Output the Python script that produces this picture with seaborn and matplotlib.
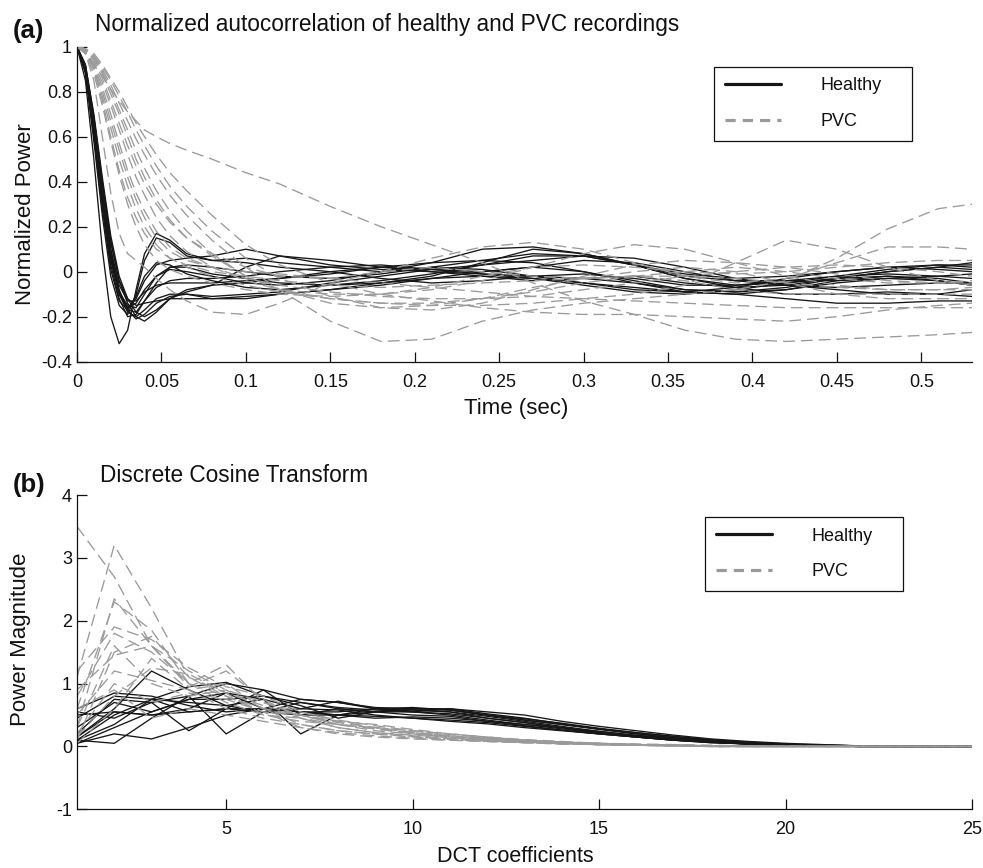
import matplotlib
matplotlib.use("Agg")
import matplotlib.pyplot as plt
import pandas as pd
import seaborn as sns
from matplotlib.lines import Line2D

# ---------------- data: (a) normalized autocorrelation ----------------
lag_time = [0, .005, .01, .015, .02, .025, .03, .035, .04, .047, .055, .065, .08, .10,
            .12, .15, .18, .21, .24, .27, .30, .33, .36, .39, .42, .45, .48, .51, .53]

healthy_acf_01 = [1, .85, .5, .1, -.2, -.32, -.26, -.08, .08, .17, .14, .08, .05, .04, .02, .0, -.03, -.05, -.04, -.02, -.01, -.03, -.06, -.06, -.04, -.02, -.01, -.02, -.03]
healthy_acf_02 = [1, .88, .58, .25, -.02, -.15, -.19, -.1, .05, .15, .13, .07, .05, .06, .04, .02, .0, .02, .05, .08, .07, .03, -.01, -.03, -.02, .0, .02, .03, .02]
healthy_acf_03 = [1, .9, .65, .35, .08, -.1, -.18, -.2, -.17, -.12, -.1, -.1, -.11, -.1, -.09, -.05, -.02, .01, .03, .05, .07, .06, .02, -.03, -.06, -.07, -.06, -.05, -.05]
healthy_acf_04 = [1, .9, .66, .36, .1, -.08, -.17, -.21, -.19, -.14, -.11, -.1, -.12, -.12, -.1, -.08, -.06, -.03, .0, .02, .0, -.04, -.08, -.09, -.08, -.05, -.03, -.04, -.06]
healthy_acf_05 = [1, .91, .68, .4, .14, -.04, -.14, -.2, -.22, -.18, -.12, -.08, -.06, -.05, -.03, .0, .02, .01, -.01, -.03, -.05, -.07, -.09, -.1, -.12, -.14, -.14, -.13, -.13]
healthy_acf_06 = [1, .89, .62, .3, .03, -.12, -.2, -.19, -.13, -.05, .02, .02, -.01, -.03, -.05, -.06, -.05, -.02, .04, .1, .08, .03, -.02, -.04, -.04, -.04, -.03, -.02, -.01]
healthy_acf_07 = [1, .9, .64, .33, .06, -.09, -.15, -.16, -.1, -.02, .01, .0, -.02, -.05, -.06, -.04, .0, .04, .1, .11, .08, .03, -.03, -.07, -.1, -.1, -.09, -.1, -.11]
healthy_acf_08 = [1, .92, .7, .42, .16, -.02, -.12, -.18, -.2, -.17, -.12, -.09, -.06, .02, .07, .05, .02, .0, -.01, -.02, -.03, -.05, -.08, -.09, -.07, -.03, .0, .02, .01]
healthy_acf_09 = [1, .9, .63, .32, .05, -.1, -.16, -.12, -.04, .03, .05, .06, .07, .1, .07, .03, .01, .0, -.02, -.04, -.03, -.02, -.05, -.07, -.06, -.03, .0, .02, .04]
healthy_acf_10 = [1, .91, .66, .37, .1, -.06, -.13, -.13, -.09, -.06, -.05, -.05, -.05, -.04, -.03, -.01, .02, .04, .05, .04, .0, -.05, -.09, -.1, -.08, -.04, -.02, -.03, -.05]
healthy_acf_11 = [1, .89, .6, .28, .01, -.13, -.17, -.11, -.02, .04, .03, -.01, -.04, -.07, -.08, -.06, -.04, -.01, .03, .07, .07, .03, -.03, -.06, -.05, -.03, -.02, -.04, -.06]
healthy_acf_12 = [1, .92, .69, .4, .13, -.04, -.12, -.15, -.14, -.13, -.12, -.12, -.12, -.11, -.1, -.08, -.05, -.03, -.02, -.03, -.06, -.09, -.1, -.08, -.05, -.02, .01, .03, .03]
healthy_acf_13 = [1, .9, .65, .35, .08, -.09, -.17, -.18, -.13, -.07, -.04, -.03, -.03, -.02, .0, .02, .03, .01, .0, .02, .05, .04, .0, -.04, -.06, -.08, -.1, -.1, -.08]
healthy_acf_14 = [1, .9, .64, .34, .06, -.1, -.16, -.14, -.08, -.02, .02, .03, .02, .0, -.02, -.03, -.01, .02, .01, -.02, -.05, -.08, -.09, -.07, -.03, .0, .02, .01, .0]

pvc_acf_01 = [1, .97, .85, .6, .35, .17, .08, .05, .02, -.03, -.08, -.13, -.18, -.19, -.14, -.05, .0, .02, .0, -.02, -.03, -.02, .0, .02, .0, -.03, -.05, -.05, -.04]
pvc_acf_02 = [1, .98, .9, .76, .6, .45, .33, .24, .17, .1, .06, .03, .0, -.02, -.04, -.06, -.07, -.06, -.05, -.04, -.03, -.02, -.02, -.03, -.05, -.07, -.08, -.08, -.08]
pvc_acf_03 = [1, .98, .92, .82, .7, .57, .45, .35, .27, .18, .11, .06, .02, -.03, -.06, -.09, -.11, -.12, -.12, -.11, -.08, -.05, -.02, .0, .02, .03, .02, .0, -.02]
pvc_acf_04 = [1, .99, .95, .88, .79, .7, .6, .5, .42, .32, .23, .15, .07, -.02, -.08, -.14, -.16, -.15, -.12, -.07, -.03, .0, .02, .0, -.05, -.1, -.12, -.12, -.12]
pvc_acf_05 = [1, .99, .96, .9, .83, .75, .67, .59, .52, .43, .34, .25, .14, .02, -.08, -.22, -.31, -.3, -.22, -.17, -.14, -.12, -.1, -.08, -.04, .06, .19, .28, .3]
pvc_acf_06 = [1, .97, .92, .87, .81, .76, .71, .67, .63, .6, .57, .54, .5, .44, .39, .29, .2, .12, .04, -.05, -.13, -.19, -.26, -.3, -.31, -.3, -.29, -.28, -.27]
pvc_acf_07 = [1, .99, .95, .89, .81, .72, .63, .54, .46, .36, .27, .18, .08, -.02, -.08, -.12, -.14, -.14, -.12, -.09, -.05, -.02, -.04, -.08, -.1, -.1, -.1, -.1, -.1]
pvc_acf_08 = [1, .98, .93, .84, .74, .63, .52, .42, .34, .24, .16, .09, .02, -.04, -.08, -.1, -.1, -.08, -.04, .02, .08, .12, .1, .04, -.02, -.06, -.08, -.08, -.07]
pvc_acf_09 = [1, .99, .96, .91, .85, .78, .71, .63, .56, .47, .38, .29, .18, .06, -.03, -.11, -.16, -.17, -.14, -.08, -.02, .03, .05, .04, .02, -.01, -.04, -.05, -.05]
pvc_acf_10 = [1, .98, .9, .78, .64, .5, .38, .28, .2, .12, .06, .02, -.02, -.06, -.09, -.12, -.14, -.15, -.15, -.14, -.12, -.1, -.06, .04, .14, .1, .02, -.04, -.06]
pvc_acf_11 = [1, .99, .94, .86, .76, .66, .56, .47, .39, .3, .22, .15, .08, .02, -.02, -.03, .0, .06, .11, .13, .1, .04, -.02, -.05, -.03, .04, .11, .11, .1]
pvc_acf_12 = [1, .98, .91, .8, .67, .54, .42, .32, .24, .15, .09, .05, .02, .0, -.01, -.03, -.05, -.07, -.09, -.11, -.12, -.13, -.14, -.15, -.16, -.16, -.16, -.16, -.16]
pvc_acf_13 = [1, .97, .88, .74, .58, .43, .3, .2, .12, .05, .01, -.02, -.05, -.08, -.1, -.11, -.1, -.07, -.02, .02, .03, .02, .0, -.01, .0, .02, .04, .05, .05]
pvc_acf_14 = [1, .99, .97, .92, .86, .8, .73, .66, .6, .52, .44, .36, .25, .12, .03, -.05, -.1, -.13, -.16, -.18, -.19, -.19, -.2, -.21, -.22, -.2, -.17, -.15, -.14]

# ---------------- data: (b) DCT coefficients ----------------
dct_index = list(range(1, 26))

healthy_dct_01 = [.1, .05, .45, .8, 1.0, .9, .75, .7, .62, .6, .58, .5, .42, .35, .28, .22, .16, .11, .07, .04, .02, .01, .005, 0, 0]
healthy_dct_02 = [.15, .6, 1.2, .9, .65, .55, .5, .5, .48, .45, .42, .38, .32, .26, .2, .15, .1, .07, .04, .02, .01, 0, 0, 0, 0]
healthy_dct_03 = [.05, .2, .12, .3, .5, .6, .55, .5, .55, .58, .55, .45, .38, .3, .22, .16, .11, .07, .04, .02, .01, 0, 0, 0, 0]
healthy_dct_04 = [.55, .45, .7, .25, .6, .9, .5, .6, .55, .5, .48, .4, .33, .26, .2, .15, .1, .06, .04, .02, .01, 0, 0, 0, 0]
healthy_dct_05 = [.2, .75, .7, .8, .2, .55, .7, .6, .55, .55, .52, .45, .38, .3, .22, .16, .11, .07, .04, .02, .01, 0, 0, 0, 0]
healthy_dct_06 = [.1, .5, .75, .7, .65, .75, .2, .5, .6, .58, .55, .48, .4, .32, .24, .17, .12, .08, .05, .03, .01, 0, 0, 0, 0]
healthy_dct_07 = [.6, .85, .8, .65, .55, .6, .75, .7, .6, .6, .6, .55, .5, .4, .32, .25, .18, .12, .08, .05, .03, .01, 0, 0, 0]
healthy_dct_08 = [.1, .35, .75, .95, 1.02, .8, .65, .45, .55, .6, .58, .5, .42, .35, .27, .2, .14, .09, .05, .03, .01, 0, 0, 0, 0]
healthy_dct_09 = [.45, .8, .75, .55, .6, .55, .6, .72, .6, .55, .5, .42, .35, .28, .21, .15, .1, .06, .04, .02, .01, 0, 0, 0, 0]
healthy_dct_10 = [.15, .55, .5, .6, .85, .75, .6, .58, .5, .45, .4, .36, .3, .25, .2, .15, .1, .07, .04, .02, .01, 0, 0, 0, 0]
healthy_dct_11 = [.3, .7, .55, .75, .85, .6, .55, .5, .45, .47, .45, .4, .35, .3, .24, .18, .13, .08, .05, .03, .01, 0, 0, 0, 0]
healthy_dct_12 = [.05, .3, .55, .75, .75, .8, .7, .62, .58, .55, .6, .52, .45, .36, .28, .2, .14, .09, .06, .03, .02, .01, 0, 0, 0]
healthy_dct_13 = [.5, .55, .5, .55, .6, .6, .55, .55, .6, .62, .58, .5, .44, .37, .29, .22, .16, .1, .06, .03, .02, .01, 0, 0, 0]

pvc_dct_01 = [3.5, 2.7, 1.6, 1.0, .8, .6, .45, .35, .28, .22, .17, .13, .1, .07, .05, .04, .03, .02, .01, .01, 0, 0, 0, 0, 0]
pvc_dct_02 = [1.1, 3.2, 2.2, 1.1, .85, .65, .5, .35, .25, .2, .15, .12, .09, .06, .04, .03, .02, .01, .01, 0, 0, 0, 0, 0, 0]
pvc_dct_03 = [.3, 2.35, 1.6, 1.2, .9, .7, .5, .38, .3, .22, .16, .12, .08, .06, .04, .03, .02, .01, 0, 0, 0, 0, 0, 0, 0]
pvc_dct_04 = [.6, 2.3, 1.85, 1.0, 1.3, .7, .55, .4, .3, .23, .17, .12, .09, .06, .04, .03, .02, .01, 0, 0, 0, 0, 0, 0, 0]
pvc_dct_05 = [1.2, 1.9, 1.7, 1.25, .95, .8, .55, .42, .33, .25, .19, .14, .1, .07, .05, .03, .02, .01, 0, 0, 0, 0, 0, 0, 0]
pvc_dct_06 = [.1, 1.5, 1.75, 1.1, .8, .55, .5, .35, .28, .2, .15, .11, .08, .05, .03, .02, .01, 0, 0, 0, 0, 0, 0, 0, 0]
pvc_dct_07 = [.9, 1.45, 1.6, .95, 1.2, .75, .45, .3, .22, .18, .14, .1, .07, .05, .03, .02, .01, 0, 0, 0, 0, 0, 0, 0, 0]
pvc_dct_08 = [.5, 1.2, 1.05, .9, 1.0, .6, .5, .4, .35, .27, .2, .15, .11, .08, .05, .03, .02, .01, 0, 0, 0, 0, 0, 0, 0]
pvc_dct_09 = [.2, 1.0, .7, .85, .75, .55, .3, .2, .15, .12, .1, .08, .06, .04, .03, .02, .01, 0, 0, 0, 0, 0, 0, 0, 0]
pvc_dct_10 = [.05, .6, 1.4, .9, .6, .45, .35, .25, .2, .15, .11, .08, .06, .04, .03, .02, .01, 0, 0, 0, 0, 0, 0, 0, 0]
pvc_dct_11 = [.6, .9, .45, .6, .5, .4, .3, .22, .17, .13, .1, .08, .06, .04, .03, .02, .01, 0, 0, 0, 0, 0, 0, 0, 0]
pvc_dct_12 = [.15, .8, 1.25, 1.15, .85, .5, .4, .35, .3, .25, .2, .15, .1, .07, .05, .03, .02, .01, 0, 0, 0, 0, 0, 0, 0]
pvc_dct_13 = [.3, 1.6, 1.0, .8, .9, .6, .35, .25, .2, .16, .12, .09, .07, .05, .03, .02, .01, 0, 0, 0, 0, 0, 0, 0, 0]
pvc_dct_14 = [.8, 1.8, 1.5, 1.0, .7, .5, .45, .3, .22, .17, .13, .1, .07, .05, .03, .02, .01, 0, 0, 0, 0, 0, 0, 0, 0]

acf_xticks = [0, .05, .1, .15, .2, .25, .3, .35, .4, .45, .5]
acf_xticklabels = ["0", "0.05", "0.1", "0.15", "0.2", "0.25", "0.3", "0.35", "0.4", "0.45", "0.5"]
acf_yticks = [-.4, -.2, 0, .2, .4, .6, .8, 1]
acf_yticklabels = ["-0.4", "-0.2", "0", "0.2", "0.4", "0.6", "0.8", "1"]
dct_xticks = [5, 10, 15, 20, 25]
dct_xticklabels = ["5", "10", "15", "20", "25"]
dct_yticks = [-1, 0, 1, 2, 3, 4]
dct_yticklabels = ["-1", "0", "1", "2", "3", "4"]
group_labels = ["Healthy", "PVC"]

healthy_acf = [healthy_acf_01, healthy_acf_02, healthy_acf_03, healthy_acf_04, healthy_acf_05,
               healthy_acf_06, healthy_acf_07, healthy_acf_08, healthy_acf_09, healthy_acf_10,
               healthy_acf_11, healthy_acf_12, healthy_acf_13, healthy_acf_14]
pvc_acf = [pvc_acf_01, pvc_acf_02, pvc_acf_03, pvc_acf_04, pvc_acf_05, pvc_acf_06, pvc_acf_07,
           pvc_acf_08, pvc_acf_09, pvc_acf_10, pvc_acf_11, pvc_acf_12, pvc_acf_13, pvc_acf_14]
healthy_dct = [healthy_dct_01, healthy_dct_02, healthy_dct_03, healthy_dct_04, healthy_dct_05,
               healthy_dct_06, healthy_dct_07, healthy_dct_08, healthy_dct_09, healthy_dct_10,
               healthy_dct_11, healthy_dct_12, healthy_dct_13]
pvc_dct = [pvc_dct_01, pvc_dct_02, pvc_dct_03, pvc_dct_04, pvc_dct_05, pvc_dct_06, pvc_dct_07,
           pvc_dct_08, pvc_dct_09, pvc_dct_10, pvc_dct_11, pvc_dct_12, pvc_dct_13, pvc_dct_14]


def long_frame(x, curves, group):
    rows = []
    for i, c in enumerate(curves):
        for xv, yv in zip(x, c):
            rows.append((xv, yv, f"{group}_{i}", group))
    return pd.DataFrame(rows, columns=["x", "y", "unit", "group"])


# ---------------- styling ----------------
sns.set_theme(style="white")
plt.rcParams["font.family"] = ["Liberation Sans", "DejaVu Sans"]
plt.rcParams["text.color"] = "#111111"

BLACK = "#161616"
GRAY = "#9a9a9a"
styles = {"Healthy": "", "PVC": (9, 4.5)}

fig = plt.figure(figsize=(9.83, 8.68), dpi=100)
ax_a = fig.add_axes([0.0783, 0.5833, 0.9105, 0.3629])
ax_b = fig.add_axes([0.0783, 0.0676, 0.9105, 0.3621])


def draw_panel(ax, x, healthy, pvc):
    dh = long_frame(x, healthy, "Healthy")
    dp = long_frame(x, pvc, "PVC")
    sns.lineplot(data=dh, x="x", y="y", units="unit", estimator=None, sort=False,
                 color=BLACK, style="group", dashes=styles, linewidth=0.95,
                 legend=False, ax=ax)
    sns.lineplot(data=dp, x="x", y="y", units="unit", estimator=None, sort=False,
                 color=GRAY, style="group", dashes=styles, linewidth=0.95,
                 legend=False, ax=ax)


draw_panel(ax_a, lag_time, healthy_acf, pvc_acf)
draw_panel(ax_b, dct_index, healthy_dct, pvc_dct)

for ax in (ax_a, ax_b):
    sns.despine(ax=ax)
    for s in ("left", "bottom"):
        ax.spines[s].set_color("#111111")
        ax.spines[s].set_linewidth(0.9)
    ax.tick_params(axis="both", direction="in", length=7, width=0.9, color="#111111",
                   labelsize=13, labelcolor="#111111", bottom=True, left=True)
    ax.tick_params(axis="x", pad=8.5)
    ax.tick_params(axis="y", pad=3.5)

ax_a.set_xlim(0, 0.53)
ax_a.set_ylim(-0.4, 1.0)
ax_a.set_xticks(acf_xticks)
ax_a.set_xticklabels(acf_xticklabels)
ax_a.set_yticks(acf_yticks)
ax_a.set_yticklabels(acf_yticklabels)
ax_a.set_xlabel("Time (sec)", fontsize=16, color="#111111", va="top")
ax_a.set_ylabel("Normalized Power", fontsize=16, color="#111111")
ax_a.xaxis.set_label_coords(0.491, -0.114)
ax_a.yaxis.set_label_coords(-0.046, 0.47)

ax_b.set_xlim(1, 25)
ax_b.set_ylim(-1, 4)
ax_b.set_xticks(dct_xticks)
ax_b.set_xticklabels(dct_xticklabels)
ax_b.set_yticks(dct_yticks)
ax_b.set_yticklabels(dct_yticklabels)
ax_b.set_xlabel("DCT coefficients", fontsize=15.5, color="#111111", va="top")
ax_b.set_ylabel("Power Magnitude", fontsize=16, color="#111111")
ax_b.xaxis.set_label_coords(0.49, -0.117)
ax_b.yaxis.set_label_coords(-0.051, 0.542)

handles = [Line2D([0], [0], color=BLACK, lw=2.3),
           Line2D([0], [0], color=GRAY, lw=2.3, dashes=(3.2, 2.2))]

for ax, anchor in ((ax_a, (0.712, 0.837, 0.2206, 0.1)), (ax_b, (0.702, 0.831, 0.2206, 0.1))):
    leg = ax.legend(handles, group_labels, loc="upper left", bbox_to_anchor=anchor,
                    mode="expand", borderaxespad=0, fontsize=13, frameon=True,
                    fancybox=False, framealpha=1, edgecolor="#111111",
                    borderpad=0.6, labelspacing=1.05, handlelength=3.1,
                    handletextpad=2.2)
    leg.get_frame().set_linewidth(0.9)

fig.text(0.013, 0.9645, "(a)", fontsize=18.5, fontweight="bold", va="center", ha="left")
fig.text(0.0966, 0.9646, "Normalized autocorrelation of healthy and PVC recordings",
         fontsize=16.3, va="baseline", ha="left")
fig.text(0.013, 0.4412, "(b)", fontsize=18.5, fontweight="bold", va="center", ha="left")
fig.text(0.1017, 0.4447, "Discrete Cosine Transform", fontsize=16.3, va="baseline", ha="left")

fig.savefig("out.png", dpi=100)
